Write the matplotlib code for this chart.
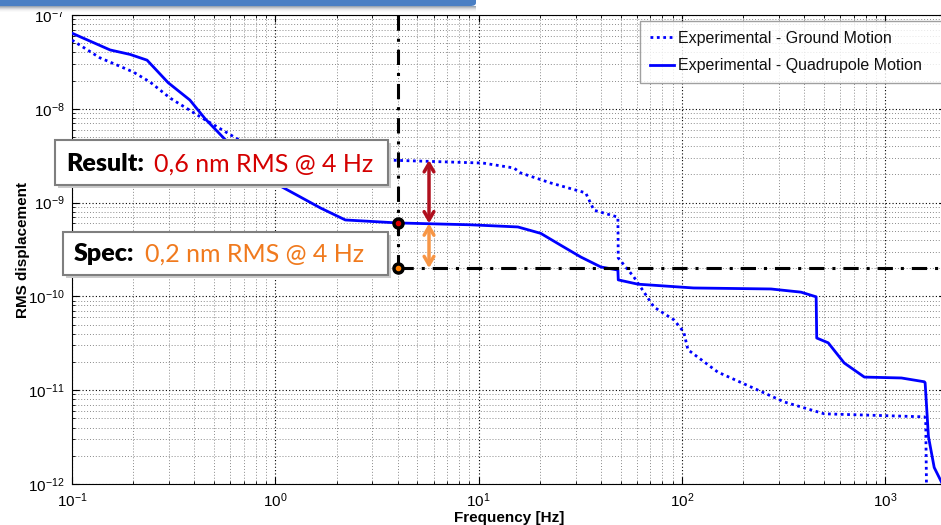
import numpy as np
import matplotlib
matplotlib.use("Agg")
import matplotlib.pyplot as plt
from matplotlib.patches import Rectangle, FancyBboxPatch

plt.rcParams['font.family'] = ['Liberation Sans', 'DejaVu Sans']
plt.rcParams['mathtext.fontset'] = 'custom'
plt.rcParams['mathtext.rm'] = 'Liberation Sans'
plt.rcParams['mathtext.it'] = 'Liberation Sans:italic'
plt.rcParams['mathtext.bf'] = 'Liberation Sans:bold'

# ---------------- data ----------------
ground_freq = [0.1, 0.137, 0.2, 0.242, 0.304, 0.44, 0.67, 3.57, 10.5, 14.9, 16.1,
               22.6, 33.6, 36.9, 48.4, 48.6, 58, 72.8, 91.5, 102, 107, 150, 219,
               318, 501, 1556, 1580, 1600]
ground_rms = [5.4e-8, 3.5e-8, 2.47e-8, 1.93e-8, 1.3e-8, 7.9e-9, 4.6e-9, 2.84e-9,
              2.64e-9, 2.34e-9, 2.07e-9, 1.62e-9, 1.27e-9, 8.3e-10, 7.0e-10,
              2.57e-10, 1.61e-10, 7.7e-11, 5.6e-11, 4.17e-11, 2.7e-11, 1.56e-11,
              1.08e-11, 7.5e-12, 5.6e-12, 5.2e-12, 5.0e-12, 5e-13]

quad_freq = [0.1, 0.154, 0.193, 0.234, 0.297, 0.38, 0.45, 0.58, 1.03, 1.67, 2.21,
             4.0, 9.1, 15.6, 20.2, 25.4, 31.8, 39.9, 48.4, 48.6, 60.7, 114, 274,
             385, 457, 460, 524, 628, 789, 1200, 1556, 1570, 1630, 1740, 1910]
quad_rms = [6.4e-8, 4.24e-8, 3.8e-8, 3.3e-8, 1.9e-8, 1.24e-8, 7.9e-9, 4.46e-9,
            1.55e-9, 8.75e-10, 6.53e-10, 6.07e-10, 5.8e-10, 5.5e-10, 4.7e-10,
            3.5e-10, 2.63e-10, 2.06e-10, 1.91e-10, 1.5e-10, 1.35e-10, 1.23e-10,
            1.2e-10, 1.11e-10, 9.9e-11, 3.6e-11, 3.2e-11, 1.95e-11, 1.38e-11,
            1.35e-11, 1.23e-11, 1.2e-11, 3.2e-12, 1.5e-12, 1.0e-12]

spec_freq = 4.0
spec_value = 2e-10
result_value = 6e-10
ground_at_arrow = 2.84e-9
arrow_freq = 5.7

series_labels = ["Experimental - Ground Motion", "Experimental - Quadrupole Motion"]
result_label = ("Result:", "0,6 nm RMS @ 4 Hz")
spec_label = ("Spec:", "0,2 nm RMS @ 4 Hz")

# ---------------- figure ----------------
W, H = 941, 525
fig = plt.figure(figsize=(W / 100, H / 100), dpi=100)
fig.patch.set_facecolor('white')

def fx(px):
    return px / W

def fy(py):
    return 1 - py / H

ax_left, ax_top, ax_bottom = 72, 15, 484
ax_right = 946.5
ax = fig.add_axes([fx(ax_left), fy(ax_bottom), fx(ax_right - ax_left), (ax_bottom - ax_top) / H])
ax.set_xscale('log')
ax.set_yscale('log')
ax.set_xlim(0.1, 2000)
ax.set_ylim(1e-12, 1e-7)

ax.grid(True, which='major', color='black', linestyle=(0, (1, 2)), linewidth=0.8)
ax.grid(True, which='minor', color='#8a8a8a', linestyle=(0, (1, 2)), linewidth=0.7)
ax.tick_params(which='both', direction='in', top=True, right=True)
ax.tick_params(which='major', length=5, labelsize=11, pad=5)
ax.tick_params(which='minor', length=2.5)
ax.yaxis.set_minor_formatter(matplotlib.ticker.NullFormatter())
ax.xaxis.set_minor_formatter(matplotlib.ticker.NullFormatter())

blue = '#0000ff'
ax.plot(ground_freq, ground_rms, color=blue, linestyle=(0, (1, 1.3)), linewidth=2.0,
        label=series_labels[0], zorder=3)
ax.plot(quad_freq, quad_rms, color=blue, linestyle='-', linewidth=2.0,
        label=series_labels[1], zorder=3)

dashdot = (0, (5, 2.6, 1, 2.6))
ax.plot([spec_freq, spec_freq], [1e-7, spec_value], color='black', linewidth=2.2,
        linestyle=dashdot, zorder=4)
ax.plot([spec_freq, 2000], [spec_value, spec_value], color='black', linewidth=2.2,
        linestyle=dashdot, zorder=4)

ax.plot([spec_freq], [result_value], 'o', color='black', markersize=8, zorder=6)
ax.plot([spec_freq], [result_value], 'o', color='#e00000', markersize=3, zorder=7)
ax.plot([spec_freq], [spec_value], 'o', color='black', markersize=8, zorder=6)
ax.plot([spec_freq], [spec_value], 'o', color='#ff7f00', markersize=3, zorder=7)

ax.annotate('', xy=(arrow_freq, result_value), xytext=(arrow_freq, ground_at_arrow),
            arrowprops=dict(arrowstyle='<->,head_length=0.6,head_width=0.35',
                            color='#b0101e', linewidth=2.5, shrinkA=0, shrinkB=0),
            zorder=8)
ax.annotate('', xy=(arrow_freq, spec_value), xytext=(arrow_freq, result_value),
            arrowprops=dict(arrowstyle='<->,head_length=0.6,head_width=0.35',
                            color='#f79646', linewidth=2.5, shrinkA=0, shrinkB=0),
            zorder=8)

ax.set_xlabel('Frequency [Hz]', fontsize=11, fontweight='bold', labelpad=1)
ax.set_ylabel('RMS displacement', fontsize=11, fontweight='bold', labelpad=-1)

leg = fig.legend(loc='upper left', bbox_to_anchor=(fx(640), fy(81), fx(320), 60 / H),
                 bbox_transform=fig.transFigure, mode='expand', fontsize=11.5,
                 frameon=True, fancybox=False, handlelength=1.5, labelspacing=0.8,
                 borderpad=0.6, handletextpad=0.25, borderaxespad=0)
leg.get_frame().set_edgecolor('#888888')
leg.get_frame().set_linewidth(1.0)
for t in leg.get_texts():
    t.set_color('#111111')

# ---------------- annotation boxes ----------------
def box(x0, y0, x1, y1):
    fig.add_artist(Rectangle((fx(x0 + 3), fy(y1 + 3)), fx(x1 - x0), (y1 - y0) / H,
                             transform=fig.transFigure, facecolor='#cccccc',
                             edgecolor='none', zorder=9))
    fig.add_artist(Rectangle((fx(x0), fy(y1)), fx(x1 - x0), (y1 - y0) / H,
                             transform=fig.transFigure, facecolor='white',
                             edgecolor='#7f7f7f', linewidth=1.5, zorder=10))

fam = ['Lato', 'DejaVu Sans']
box(55, 140, 388, 185)
fig.text(fx(66), fy(164), result_label[0], fontsize=18, fontweight='heavy',
         family=fam, color='black', va='center', ha='left', zorder=11)
fig.text(fx(154), fy(164), result_label[1], fontsize=18,
         family=fam, color='#d40000', va='center', ha='left', zorder=11)

box(63, 232, 388, 275)
fig.text(fx(74), fy(254), spec_label[0], fontsize=18, fontweight='heavy',
         family=fam, color='black', va='center', ha='left', zorder=11)
fig.text(fx(145), fy(254), spec_label[1], fontsize=18,
         family=fam, color='#f07a1e', va='center', ha='left', zorder=11)

# ---------------- top banner ----------------
for i, c in enumerate(['#9aa6b4', '#b8bec6', '#d2d5d9', '#e6e7e9', '#f3f3f4', '#fafafa']):
    fig.add_artist(Rectangle((0, fy(7 + i)), fx(476), 1 / H, transform=fig.transFigure,
                             facecolor=c, edgecolor='none', zorder=9))
fig.add_artist(FancyBboxPatch((fx(-10), fy(6)), fx(486), 12 / H,
                              boxstyle='round,pad=0,rounding_size=0.006',
                              transform=fig.transFigure, facecolor='#4a7fc4',
                              edgecolor='none', zorder=10))

fig.savefig('out.png', dpi=100)
